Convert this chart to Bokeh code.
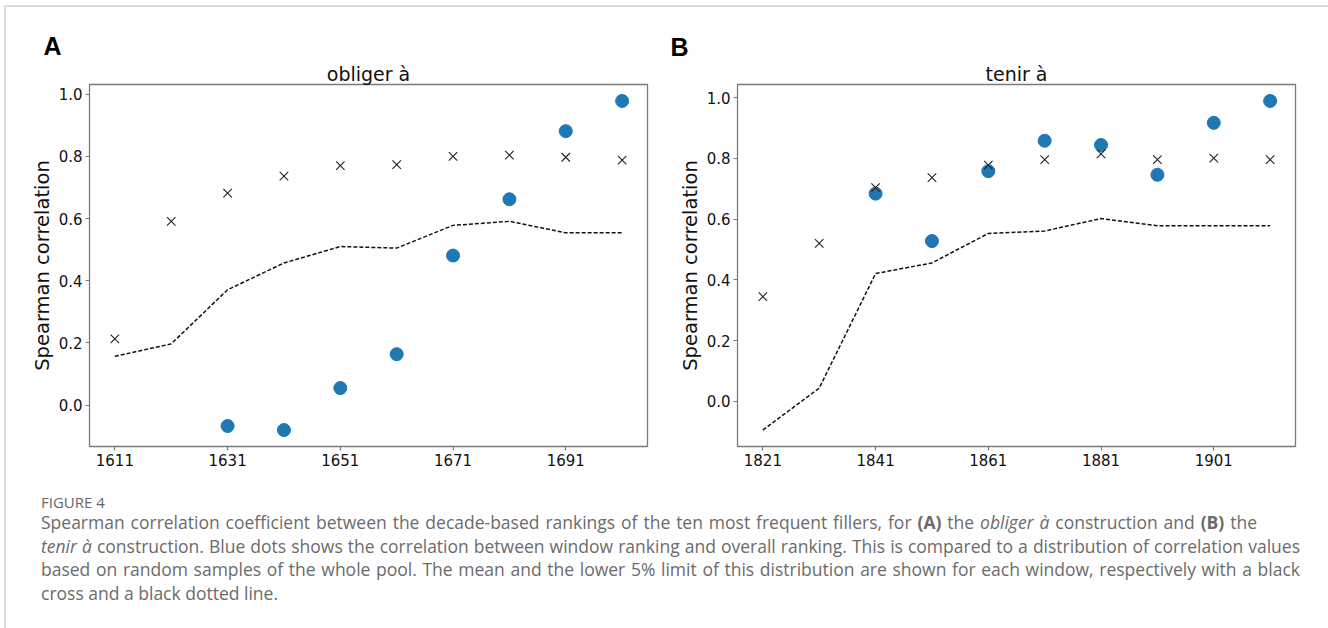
from bokeh.plotting import figure
from bokeh.models import Div, Range1d, FixedTicker, PrintfTickFormatter, Title
from bokeh.layouts import column, row
from bokeh.embed import file_html
from bokeh.resources import INLINE

nan = float("nan")

# ---- Panel A: obliger à ----
years_a = [1611, 1621, 1631, 1641, 1651, 1661, 1671, 1681, 1691, 1701]
mean_a = [0.213, 0.591, 0.682, 0.736, 0.770, 0.773, 0.800, 0.804, 0.797, 0.788]
low5_a = [0.157, 0.197, 0.371, 0.457, 0.510, 0.505, 0.578, 0.591, 0.554, 0.554]
window_a = [nan, nan, -0.067, -0.080, 0.055, 0.164, 0.481, 0.662, 0.881, 0.978]
xticks_a = [1611, 1631, 1651, 1671, 1691]

# ---- Panel B: tenir à ----
years_b = [1821, 1831, 1841, 1851, 1861, 1871, 1881, 1891, 1901, 1911]
mean_b = [0.345, 0.520, 0.704, 0.737, 0.778, 0.796, 0.815, 0.796, 0.801, 0.796]
low5_b = [-0.094, 0.044, 0.421, 0.456, 0.553, 0.561, 0.602, 0.578, 0.578, 0.578]
window_b = [nan, nan, 0.684, 0.528, 0.758, 0.858, 0.844, 0.746, 0.917, 0.989]
xticks_b = [1821, 1841, 1861, 1881, 1901]

yticks = [0.0, 0.2, 0.4, 0.6, 0.8, 1.0]

titles = ["obliger à", "tenir à"]
letters = ["A", "B"]
ylabel = "Spearman correlation"

caption_head = "FIGURE 4"
caption_lines = [
    "Spearman correlation coefficient between the decade-based rankings of the ten most frequent fillers, for <b>(A)</b> the <i>obliger à</i> construction and <b>(B)</b> the",
    "<i>tenir à</i> construction. Blue dots shows the correlation between window ranking and overall ranking. This is compared to a distribution of correlation values",
    "based on random samples of the whole pool. The mean and the lower 5% limit of this distribution are shown for each window, respectively with a black",
    "cross and a black dotted line.",
]

BLUE = "#1f77b4"
FRAME = "#7a7a7a"
TICKFONT = "DejaVu Sans"


def padded(vals):
    v = [x for x in vals if x == x]
    lo, hi = min(v), max(v)
    d = (hi - lo) * 0.05
    return lo - d, hi + d


def panel(years, mean, low5, window, xticks, title, letter,
          bl, br, bt, bb, letter_offset, letter_standoff):
    x0, x1 = padded(years)
    y0, y1 = padded(mean + low5 + window)
    p = figure(frame_width=558, frame_height=362,
               min_border_left=bl, min_border_right=br,
               min_border_top=bt, min_border_bottom=bb,
               x_range=Range1d(x0, x1), y_range=Range1d(y0, y1),
               output_backend="svg", toolbar_location=None,
               background_fill_color="white", border_fill_color="white")
    p.title = None
    p.grid.visible = False
    p.outline_line_color = FRAME
    p.outline_line_width = 1.3
    p.outline_line_alpha = 1.0

    # panel title (nearest to the frame) then the panel letter above it
    p.add_layout(Title(text=title, align="center", text_font=TICKFONT,
                       text_font_style="normal", text_font_size="19px",
                       text_color="#111111", standoff=0), "above")
    p.add_layout(Title(text=letter, align="left", offset=letter_offset,
                       text_font="Liberation Sans", text_font_style="bold",
                       text_font_size="25px", text_color="#000000",
                       standoff=letter_standoff), "above")

    for ax in (p.xaxis[0], p.yaxis[0]):
        ax.axis_line_color = None
        ax.major_tick_line_color = FRAME
        ax.major_tick_line_width = 1.2
        ax.major_tick_out = 4
        ax.major_tick_in = 0
        ax.minor_tick_line_color = None
        ax.major_label_text_font = TICKFONT
        ax.major_label_text_font_size = "15px"
        ax.major_label_text_color = "#111111"
        ax.major_label_standoff = 3

    p.xaxis[0].ticker = FixedTicker(ticks=xticks)
    p.xaxis[0].formatter = PrintfTickFormatter(format="%d")
    p.yaxis[0].ticker = FixedTicker(ticks=yticks)
    p.yaxis[0].formatter = PrintfTickFormatter(format="%.1f")
    p.yaxis[0].axis_label = ylabel
    p.yaxis[0].axis_label_text_font = TICKFONT
    p.yaxis[0].axis_label_text_font_style = "normal"
    p.yaxis[0].axis_label_text_font_size = "19.5px"
    p.yaxis[0].axis_label_text_color = "#111111"
    p.yaxis[0].axis_label_standoff = 2

    p.scatter(years, window, size=13, color=BLUE, line_color=BLUE)
    p.scatter(years, mean, marker="x", size=12, line_color="#222222", line_width=1.1)
    p.line(years, low5, line_color="#111111", line_width=1.5, line_dash="4 2")
    return p


pa = panel(years_a, mean_a, low5_a, window_a, xticks_a, titles[0], letters[0],
           83, 13, 77, 29, -46, 1)
pb = panel(years_b, mean_b, low5_b, window_b, xticks_b, titles[1], letters[1],
           77, 24, 73, 33, -67, 0)

line_widths = [1216, 1259, 1259, None]
body = ""
for ln, w in zip(caption_lines, line_widths):
    if w:
        body += ('<div style="font-size:17.5px; line-height:23.5px; white-space:nowrap; '
                 'width:%dpx; text-align:justify; text-align-last:justify;">%s</div>' % (w, ln))
    else:
        body += '<div style="font-size:17.5px; line-height:23.5px; white-space:nowrap;">%s</div>' % ln

cap_html = (
    '<div style="font-family: \'Open Sans\', Lato, sans-serif; color:#6b6b6b; '
    'padding-left:30px; padding-top:13px;">'
    '<div style="font-size:15px; line-height:18px; color:#686868;">' + caption_head + '</div>'
    + body + '</div>'
)
cap = Div(text=cap_html, width=1313, height=145)

layout = column(row(pa, pb, spacing=0), cap, spacing=0,
                styles={"margin-left": "4px", "margin-top": "5px",
                        "border-left": "2px solid #dadada", "border-right": "2px solid #dadada",
                        "border-top": "2px solid #dadada"})

open("out.html", "w").write(file_html(layout, INLINE))
